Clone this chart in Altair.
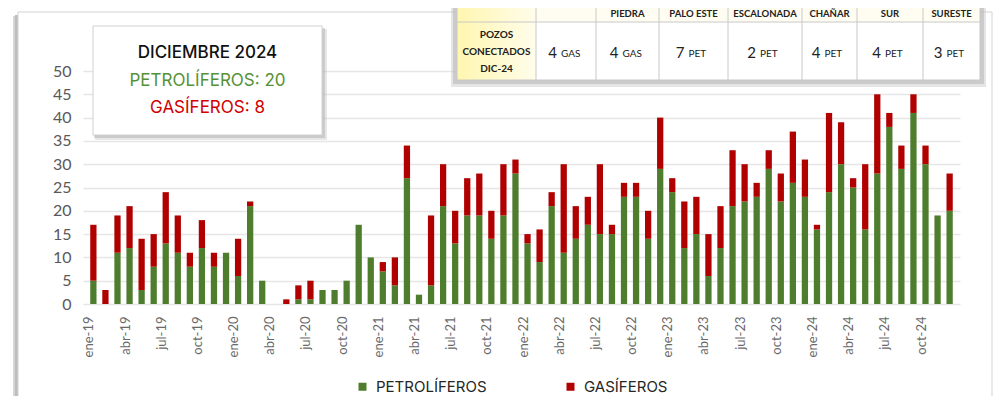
import altair as alt
import pandas as pd

# ---------------- data ----------------
MESES = ["ene", "feb", "mar", "abr", "may", "jun", "jul", "ago", "sep", "oct", "nov", "dic"]
ANIOS = ["19", "20", "21", "22", "23", "24"]
meses = [f"{m}-{a}" for a in ANIOS for m in MESES]

petroliferos = [5, 0, 11, 12, 3, 8, 13, 11, 8, 12, 8, 11,
                6, 21, 5, 0, 0, 1, 1, 3, 3, 5, 17, 10,
                7, 4, 27, 2, 4, 21, 13, 19, 19, 14, 19, 28,
                13, 9, 21, 11, 14, 17, 15, 15, 23, 23, 14, 29,
                24, 12, 15, 6, 12, 21, 22, 23, 29, 22, 26, 23,
                16, 24, 30, 25, 16, 28, 38, 29, 41, 30, 19, 20]
gasiferos = [12, 3, 8, 9, 11, 7, 11, 8, 3, 6, 3, 0,
             8, 1, 0, 0, 1, 3, 4, 0, 0, 0, 0, 0,
             2, 6, 7, 0, 15, 9, 7, 8, 9, 6, 11, 3,
             2, 7, 3, 19, 7, 6, 15, 2, 3, 3, 6, 11,
             3, 10, 8, 9, 9, 12, 8, 3, 4, 6, 11, 8,
             1, 17, 9, 2, 14, 17, 3, 5, 4, 4, 0, 8]
etiquetas_x = meses[::3]
series = ["PETROLÍFEROS", "GASÍFEROS"]
colores = ["#4E7D2D", "#B00000"]

tabla_cab = ["", "", "PIEDRA", "PALO ESTE", "ESCALONADA", "CHAÑAR", "SUR", "SURESTE"]
tabla_num = ["", "4", "4", "7", "2", "4", "4", "3"]
tabla_suf = ["", "GAS", "GAS", "PET", "PET", "PET", "PET", "PET"]
tabla_rotulo = ["POZOS", "CONECTADOS", "DIC-24"]

rows = []
for i, m in enumerate(meses):
    rows.append({"mes": m, "tipo": series[0], "pozos": petroliferos[i], "orden": 0})
    rows.append({"mes": m, "tipo": series[1], "pozos": gasiferos[i], "orden": 1})
df = pd.DataFrame(rows)

# ---------------- layout (page pixels) ----------------
PX0, PY0 = 83, 71          # plot-area origin on the page
W, H = 877, 233
FONT = "Lato"


def px(x):
    return x - PX0


def py(y):
    return y - PY0


one = alt.Data(values=[{"k": 0}])


def box(x1, y1, x2, y2, **kw):
    return alt.Chart(one).mark_rect(**kw).encode(
        x=alt.value(px(x1)), x2=alt.value(px(x2)),
        y=alt.value(py(y1)), y2=alt.value(py(y2)))


def txt(s, x, y, **kw):
    return alt.Chart(one).mark_text(text=s, **kw).encode(
        x=alt.value(px(x)), y=alt.value(py(y)))


layers = []
# outer frame with shadow
layers.append(box(13, 16, 18, 420, color="#d6d6d6"))
layers.append(box(15, 15, 18, 420, color="#bdbdbd"))
layers.append(box(18, 12, 992, 420, fill="white", fillOpacity=0, stroke="#d3d3d3", strokeWidth=1))

# bars
bars = alt.Chart(df).mark_bar().encode(
    x=alt.X("mes:N", sort=meses, title=None,
            scale=alt.Scale(paddingInner=0.48, paddingOuter=0.6),
            axis=alt.Axis(values=etiquetas_x, labelAngle=-90, labelFontSize=13,
                          labelColor="#6a6a6a", labelFont=FONT, labelPadding=12,
                          labelOffset=-4, ticks=False, domain=False, grid=False)),
    y=alt.Y("pozos:Q", stack="zero", title=None,
            scale=alt.Scale(domain=[0, 50], nice=False),
            axis=alt.Axis(values=list(range(0, 51, 5)), labelFontSize=16,
                          labelColor="#595959", labelFont=FONT, labelPadding=12,
                          ticks=False, domain=False, gridColor="#e6e6e6", gridWidth=1.6)),
    color=alt.Color("tipo:N", scale=alt.Scale(domain=series, range=colores),
                    legend=alt.Legend(title=None, orient="none", direction="horizontal",
                                      legendX=px(355), legendY=py(379),
                                      symbolType="square", symbolSize=64, symbolStrokeWidth=0,
                                      labelFontSize=15, labelFont="Inter", labelColor="#262626",
                                      labelOffset=6, columnPadding=76)),
    order=alt.Order("orden:Q"),
)
layers.append(bars)

# info box
layers.append(box(95, 29, 327, 140, color="#bbbbbb", opacity=0.35))
layers.append(box(94, 28, 325, 138, color="#999999", opacity=0.35))
layers.append(box(93, 26, 322, 135, fill="white", stroke="#d0d0d0", strokeWidth=1))
layers.append(txt("DICIEMBRE 2024", 207.5, 53, fontSize=17, font="Inter", fontWeight=500, color="#111111"))
layers.append(txt(f"PETROLÍFEROS: {petroliferos[-1]}", 207.5, 81, fontSize=17, font="Inter", color="#559236"))
layers.append(txt(f"GASÍFEROS: {gasiferos[-1]}", 207.5, 108, fontSize=17, font="Inter", color="#D00000"))

# table
TC = [457, 536, 596, 659, 728, 802, 857, 923, 980]
T_TOP, T_SEP, T_BOT = 0, 22, 80
layers.append(box(451, 4, 986, 87, color="#cccccc", opacity=0.5))
layers.append(box(453, 2, 984, 84, color="#aaaaaa", opacity=0.45))
layers.append(box(TC[0], T_TOP, TC[-1], T_SEP, color="#FFFDF2"))
layers.append(box(TC[0], T_SEP, TC[-1], T_BOT, color="white"))
layers.append(box(TC[0], T_TOP, TC[1], T_BOT,
                  color=alt.Gradient(gradient="linear", x1=0, x2=1, y1=0, y2=0,
                                     stops=[alt.GradientStop(color="#FFF6B0", offset=0),
                                            alt.GradientStop(color="#FFFDEB", offset=1)])))
layers.append(box(TC[0], T_TOP, TC[-1], T_BOT, fillOpacity=0, stroke="#c8c8c8", strokeWidth=1))
layers.append(alt.Chart(one).mark_rule(color="#c8c8c8", strokeWidth=1).encode(
    x=alt.value(px(TC[0])), x2=alt.value(px(TC[-1])), y=alt.value(py(T_SEP))))
for xc in TC[1:-1]:
    layers.append(alt.Chart(one).mark_rule(color="#c8c8c8", strokeWidth=1).encode(
        x=alt.value(px(xc)), y=alt.value(py(T_TOP)), y2=alt.value(py(T_BOT))))
for i in range(8):
    cx = (TC[i] + TC[i + 1]) / 2
    if tabla_cab[i]:
        layers.append(txt(tabla_cab[i], cx, 14, fontSize=9.5, font=FONT, fontWeight="bold", color="#222222"))
    if tabla_num[i]:
        layers.append(txt(tabla_num[i], cx - 9, 53, fontSize=15, font=FONT, color="#222222", align="right"))
        layers.append(txt(tabla_suf[i], cx - 5, 54, fontSize=10, font=FONT, color="#222222", align="left"))
for j, s in enumerate(tabla_rotulo):
    layers.append(txt(s, (TC[0] + TC[1]) / 2, 35 + 17 * j, fontSize=10, font=FONT,
                      fontWeight="bold", color="#222222"))

chart = alt.layer(*layers).properties(
    width=W, height=H,
    autosize=alt.AutoSizeParams(type="none"),
    padding={"left": PX0 - 8, "top": PY0 - 8, "right": 986 - (PX0 - 8) - W, "bottom": 388 - (PY0 - 8) - H},
    background="white",
).configure_view(stroke=None)

chart.save("out.html", embed_options={"renderer": "svg", "actions": False})
